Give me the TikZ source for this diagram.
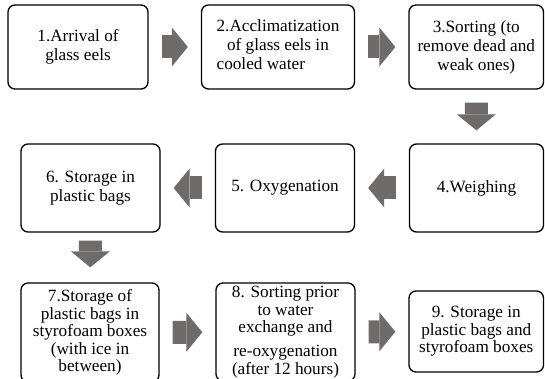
\documentclass[tikz,border=0pt]{standalone}
\usepackage{fontspec}
\setmainfont{Liberation Serif}
\newfontfamily\stagefont{Liberation Serif}
\usetikzlibrary{arrows.meta}

\definecolor{arrowgrey}{RGB}{112,107,107}

\tikzset{
  stage/.style={draw=black, line width=1.3pt, rounded corners=7pt, align=center,
    inner sep=2pt, font=\stagefont\fontsize{17.2}{19}\selectfont},
  tight/.style={font=\stagefont\fontsize{17.2}{17.5}\selectfont},
  flow/.style={draw=arrowgrey, line width=23pt, line cap=butt,
    -{Triangle[width=39pt, length=16pt, line width=0pt, fill=arrowgrey]},
    shorten <=13pt, shorten >=13pt}
}

\begin{document}
\begin{tikzpicture}[x=1pt, y=-1pt]
\clip (0, 0) rectangle (545, 379);

\node (s1) at (78, 47) [stage, minimum width=140pt, minimum height=84pt] {1.Arrival of\\glass eels};
\node (s2) at (278, 47) [stage, minimum width=153pt, minimum height=84pt] {\begin{tabular}{@{}c@{}}2.Acclimatization\\of glass eels in\\\multicolumn{1}{@{}l@{}}{cooled water}\end{tabular}};
\node (s3) at (476.25, 47) [stage, minimum width=134.5pt, minimum height=84pt] {3.Sorting (to\\remove dead and\\weak ones)};

\node (s4) at (476.5, 188) [stage, minimum width=134pt, minimum height=88pt] {4.Weighing};
\node (s5) at (285, 188) [stage, minimum width=139pt, minimum height=88pt] {5. Oxygenation};
\node (s6) at (90.5, 188) [stage, minimum width=139pt, minimum height=88pt] {6. Storage in\\plastic bags};

\node (s7) at (90, 332.5) [stage, tight, minimum width=138pt, minimum height=99pt] {7.Storage of\\plastic bags in\\styrofoam boxes\\(with ice in\\between)};
\node (s8) at (285.5, 332) [stage, tight, minimum width=139pt, minimum height=98pt] {8. Sorting prior\\to water\\exchange and\\[6.5pt]re-oxygenation\\(after 12 hours)};
\node (s9) at (476.25, 331.5) [stage, tight, minimum width=134.5pt, minimum height=81pt] {9. Storage in\\plastic bags and\\styrofoam boxes};

\draw[flow] (s1) -- (s2);
\draw[flow] (s2) -- (s3);
\draw[flow] (s3) -- (s4);
\draw[flow] (s4) -- (s5);
\draw[flow] (s5) -- (s6);
\draw[flow, shorten <=8pt, shorten >=15pt] (s6) -- (s7);
\draw[flow] (s7) -- (s8);
\draw[flow] (s8) -- (s9);
\end{tikzpicture}
\end{document}
